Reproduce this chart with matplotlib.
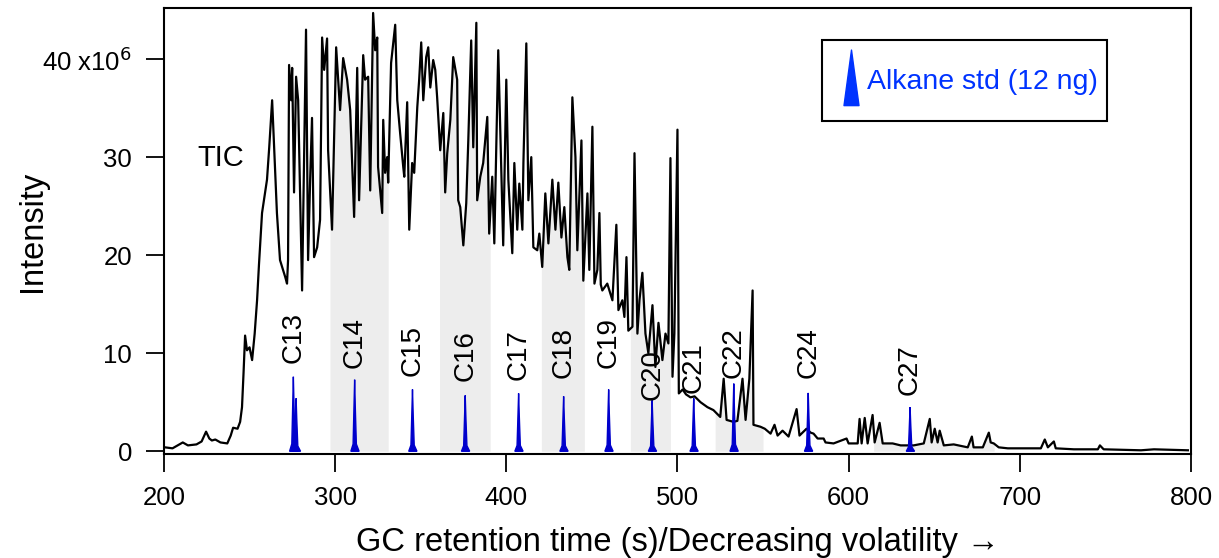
import numpy as np
import matplotlib.pyplot as plt
from matplotlib.path import Path
from matplotlib.lines import Line2D

plt.rcParams['font.family'] = ['Liberation Sans', 'DejaVu Sans']

# TIC trace (retention time s, intensity x1e6)
tic_t = [200.6, 205, 208, 211, 214, 219, 222, 224.6, 226.5, 228, 230, 233, 237, 239, 240.4,
         243, 244.5, 245.6, 246.5, 247.4, 248.5, 250, 251.5, 253, 254.4, 255.5, 257.3, 260.2,
         261.5, 263.2, 266, 267.8, 270.8, 271.9, 272.5, 273.1, 274.3, 274.9, 276, 277.2, 278.4,
         280.7, 283, 284.2, 285.4, 286.5, 287.7, 289.5, 291.2, 292.4, 293.6, 295.3, 295.9, 298.2,
         300.6, 302.9, 304.7, 307, 308.8, 311.1, 312.9, 314, 316.4, 317.5, 319.3, 320.5, 322.2,
         323.4, 324.6, 325.1, 327.5, 328.1, 329.2, 330.4, 331, 332.7, 335.1, 336.3, 338, 339.8,
         340.4, 342.1, 343.3, 345, 346.2, 348, 349.1, 350.3, 351.5, 353.2, 354.4, 355.6, 357.3,
         358.5, 359.6, 361.4, 363.2, 364.3, 365.5, 367.3, 369, 371.3, 371.9, 373.1, 374.9, 376.6,
         377.8, 379.5, 380.7, 382.5, 383, 384.8, 386.5, 388.9, 390, 391.8, 393, 395.3, 397, 398.2,
         400, 401.2, 403.5, 404.7, 406.4, 407.6, 409.4, 410, 411.7, 412.9, 414.6, 415.8, 418.1,
         419.3, 421, 422.8, 424.6, 426.9, 428.7, 430.4, 432.2, 433.9, 435.7, 436.8, 438.6, 440.4,
         441.5, 443.9, 445, 447.4, 448.5, 450.3, 451.5, 453.2, 454.4, 455.2, 456.1, 459, 462, 464.3,
         465.5, 467.8, 469, 470.2, 471.3, 473.7, 474.9, 476.6, 477.8, 479.5, 481.3, 483, 485.4,
         487.1, 488.9, 491.2, 493, 494.7, 495.9, 497.1, 498.2, 500, 500.8, 503, 505, 507.6, 510,
         513.5, 517.5, 521, 525, 527, 528.7, 532.7, 535, 538, 539.8, 542, 543.9, 544.4, 548.5,
         551, 554.4, 556.7, 558.5, 561.4, 564.9, 569.6, 571.3, 575.4, 577.8, 579.5, 581.9, 585.4,
         586.5, 591.2, 598.8, 600, 605.3, 606.4, 607.6, 609.4, 611.1, 614, 615.2, 618.1, 619.9,
         625.7, 630.4, 638, 643.9, 647.4, 648.5, 650.3, 652, 653.2, 655.6, 661.4, 669.6, 672, 673,
         678.4, 681.9, 683, 684.8, 687.7, 693, 712.3, 714.6, 716.4, 719.9, 721, 731.6, 745.6,
         746.8, 749, 770.8, 778.4, 798.2]
tic_i = [0.4, 0.3, 0.6, 0.9, 0.6, 0.7, 1.0, 2.0, 1.3, 1.1, 1.2, 0.9, 0.8, 1.6, 2.4,
         2.3, 3.0, 4.5, 8.0, 11.8, 10.3, 10.6, 9.3, 12.0, 15.4, 19.0, 24.3, 27.7,
         31.0, 35.8, 24.3, 19.5, 17.8, 17.1, 19.5, 39.4, 35.8, 39.1, 26.4, 38.2, 35.8,
         16.4, 43.0, 19.5, 27.7, 34.0, 19.8, 20.8, 23.6, 42.2, 38.9, 42.1, 30.7, 22.6,
         41.2, 34.8, 40.1, 37.9, 34.8, 23.9, 39.1, 25.6, 40.4, 37.9, 38.2, 26.6, 44.7,
         40.9, 42.2, 29.0, 24.3, 33.8, 28.4, 30.0, 27.4, 39.6, 43.5, 35.8, 32.4, 29.0,
         28.0, 35.6, 22.6, 29.4, 28.4, 35.1, 37.9, 41.7, 35.8, 40.2, 41.2, 37.1, 39.9,
         38.9, 36.1, 30.7, 34.5, 26.4, 30.4, 33.8, 40.2, 37.9, 25.6, 24.9, 21.0, 25.3,
         31.7, 41.9, 31.0, 43.7, 25.6, 28.0, 29.4, 34.1, 22.2, 28.0, 21.2, 40.9, 29.4, 21.0,
         37.9, 27.7, 20.2, 29.4, 22.6, 27.3, 22.6, 29.4, 41.6, 25.6, 30.0, 20.8, 20.5,
         22.2, 18.8, 26.3, 21.2, 27.7, 22.6, 27.4, 21.8, 24.9, 19.8, 18.5, 36.1, 30.0,
         20.5, 31.7, 17.4, 26.3, 18.5, 33.1, 17.1, 18.5, 24.3, 17.0, 16.4, 17.1, 15.4, 23.1,
         14.4, 15.4, 13.7, 19.8, 12.3, 12.7, 30.4, 12.0, 15.4, 18.2, 12.0, 10.0, 14.9,
         8.6, 13.1, 9.3, 12.0, 11.0, 29.9, 7.6, 12.0, 32.8, 5.9, 6.3, 5.8, 5.5, 5.6,
         5.0, 4.5, 4.2, 3.5, 7.4, 3.2, 3.0, 3.1, 7.4, 3.2, 7.4, 16.4, 2.7, 2.5,
         2.3, 1.8, 2.7, 1.6, 2.1, 1.5, 4.3, 1.6, 2.3, 1.9, 1.8, 1.3, 1.3,
         0.9, 0.8, 1.3, 0.8, 0.8, 3.3, 0.8, 3.4, 0.8, 3.7, 0.9, 2.9, 0.8,
         0.8, 0.6, 0.6, 0.8, 3.3, 0.9, 2.3, 0.9, 2.1, 0.6, 0.7, 0.4, 1.5, 0.4,
         0.4, 1.9, 0.9, 0.8, 0.4, 0.3, 0.3, 1.2, 0.4, 1.0, 0.3, 0.2, 0.2,
         0.6, 0.2, 0.1, 0.2, 0.1]

# shaded retention windows (s)
band_start = [297, 361, 420.5, 472.5, 522, 614.6]
band_end = [331, 390.6, 445.6, 495.9, 550, 685]

# alkane standard peaks
alk_names = ['C13', 'C14', 'C15', 'C16', 'C17', 'C18', 'C19', 'C20', 'C21', 'C22', 'C24', 'C27']
alk_t = [275.6, 311.4, 345.2, 376.0, 407.2, 433.5, 459.8, 485.2, 509.5, 532.9, 576.4, 635.9]
alk_h = [7.6, 7.3, 6.3, 5.7, 5.9, 5.6, 6.3, 5.2, 5.4, 6.9, 5.95, 4.5]
shoulder_t = [277.2]
shoulder_h = [5.4]

label_gap = [14, 12, 13, 14, 13, 18, 21, 0, 5, 6, 15, 12]  # px above peak

fig = plt.figure(figsize=(12.19, 5.58), dpi=100)
ax = fig.add_axes([0.1345, 0.186, 0.8425, 0.7995])

for a, b in zip(band_start, band_end):
    tt = np.linspace(a, b, 300)
    ax.fill_between(tt, 0, np.interp(tt, tic_t, tic_i), color='#ededed', lw=0, zorder=1)

ax.plot(tic_t, tic_i, color='black', lw=1.6, zorder=2)

blue = '#0000cc'
for t, h in zip(alk_t + shoulder_t, alk_h + shoulder_h):
    ax.fill([t - 2.2, t - 0.9, t - 0.4, t, t + 0.4, t + 1.0, t + 2.6],
            [0, 0.1 * h, 0.6 * h, h, 0.6 * h, 0.1 * h, 0],
            color=blue, lw=1.0, zorder=3)

for name, t, h, g in zip(alk_names, alk_t, alk_h, label_gap):
    ax.annotate(name, (t, h), xytext=(0, g * 0.72), textcoords='offset points',
                rotation=90, ha='center', va='bottom', fontsize=20, zorder=4)

ax.text(233.3, 29.9, 'TIC', fontsize=21, ha='center', va='center')

ax.set_xlim(200, 800)
ax.set_ylim(-0.3, 45.2)
ax.set_xticks([200, 300, 400, 500, 600, 700, 800])
ax.set_yticks([0, 10, 20, 30, 40])
ax.set_yticklabels(['0', '10', '20', '30', '40 x10$^6$'])
ax.tick_params(axis='x', direction='out', length=13, width=1.3, labelsize=18.5, pad=10)
ax.tick_params(axis='y', direction='out', length=13, width=1.3, labelsize=18.5, pad=10)
for s in ax.spines.values():
    s.set_linewidth(1.5)

ax.set_xlabel('GC retention time (s)/Decreasing volatility \u2192', fontsize=23.5, labelpad=12)
ax.set_ylabel('Intensity', fontsize=23.5)
ax.yaxis.set_label_coords(-0.113, 0.5)

# narrow triangle, sitting a little below the handle centre
tri = Path([(-0.27, -1.3), (0, 0.7), (0.27, -1.3), (-0.27, -1.3)],
           [Path.MOVETO, Path.LINETO, Path.LINETO, Path.CLOSEPOLY])
handle = Line2D([], [], marker=tri, color='#0033ff', linestyle='None', markersize=52)
leg = ax.legend([handle], ['Alkane std (12 ng)'], loc='upper right',
                bbox_to_anchor=(0.918, 0.928), borderaxespad=0, fancybox=False,
                edgecolor='black', fontsize=20.5, handlelength=1.45, handleheight=3.05,
                handletextpad=-0.15, borderpad=0.3, framealpha=1)
leg.get_frame().set_linewidth(1.5)
for txt in leg.get_texts():
    txt.set_color('#0033ff')

plt.savefig('out.png', dpi=100)
